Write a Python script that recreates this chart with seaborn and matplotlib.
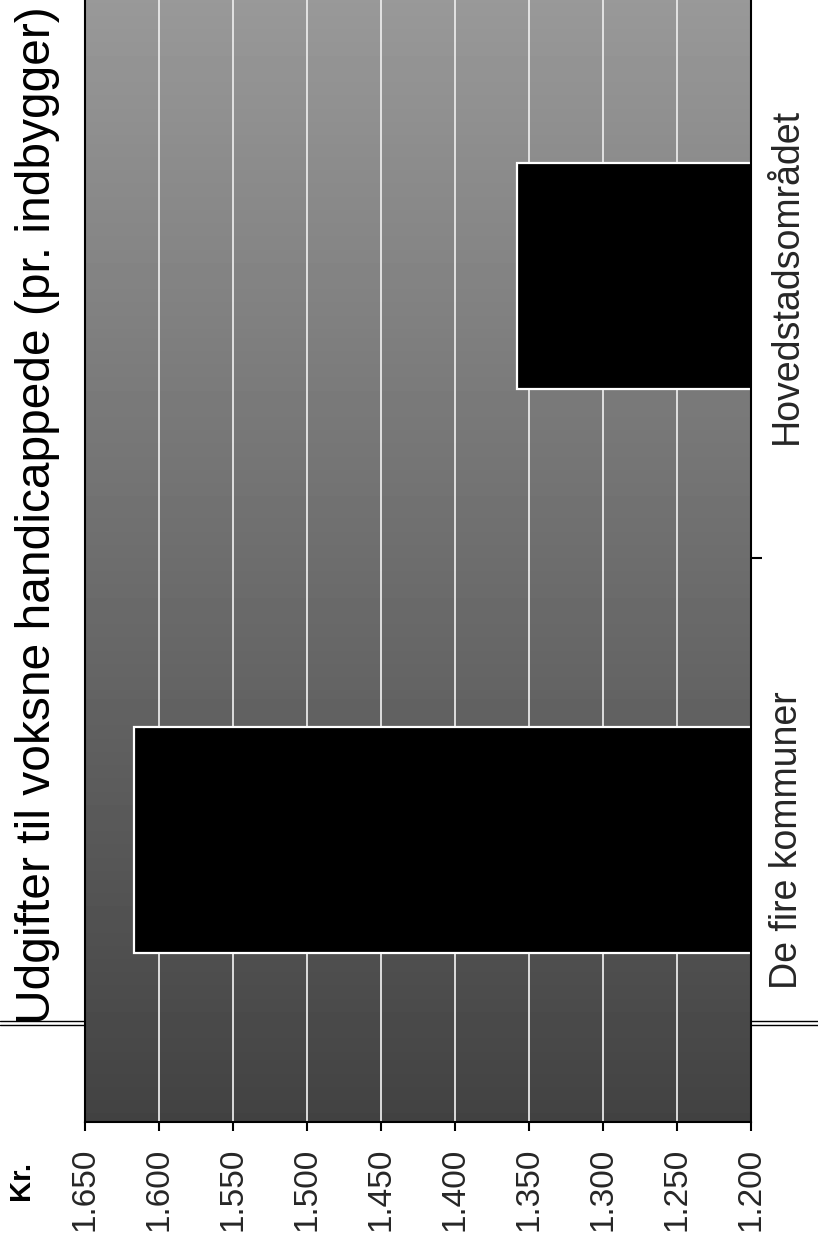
import numpy as np
import matplotlib
matplotlib.use("Agg")
import matplotlib.pyplot as plt
from matplotlib.lines import Line2D
import seaborn as sns

# ---- data ----
categories = ["Hovedstadsområdet", "De fire kommuner"]
values = [1358, 1617]
tick_values = [1200, 1250, 1300, 1350, 1400, 1450, 1500, 1550, 1600, 1650]
tick_labels = ["1.200", "1.250", "1.300", "1.350", "1.400", "1.450",
               "1.500", "1.550", "1.600", "1.650"]
title = "Udgifter til voksne handicappede (pr. indbygger)"
unit_label = "Kr."

sns.set_style("white")
plt.rcParams["font.family"] = ["Liberation Sans", "DejaVu Sans"]

fig = plt.figure(figsize=(8.18, 12.37), dpi=100)
ax = fig.add_axes([85 / 818, 115 / 1237, 666 / 818, 1128 / 1237])

# textured-looking gray background (vertical gradient, lighter at top)
grad = np.linspace(0.26, 0.60, 256)[:, None]
ax.imshow(grad, extent=(0, 1, 0, 1), transform=ax.transAxes, cmap="gray",
          vmin=0, vmax=1, aspect="auto", origin="lower", zorder=0)

sns.barplot(x=values, y=categories, orient="h", color="black", width=0.4,
            edgecolor="white", linewidth=1.6, saturation=1, ax=ax, zorder=2)

ax.set_xlim(1650, 1200)
ax.set_ylim(1.5, -0.5)
ax.set_xticks(tick_values)
ax.set_xticklabels(tick_labels, rotation=90, fontsize=24)
ax.set_xlabel("")
ax.set_ylabel("")

ax.grid(axis="x", color="#e8e8e8", lw=1.3, zorder=1)
ax.grid(axis="y", visible=False)
ax.set_axisbelow(True)

ax.tick_params(axis="x", which="major", direction="out", length=6.5,
               width=1.5, color="black", pad=12, bottom=True)

ax.yaxis.tick_right()
ax.set_yticks([0, 1])
ax.set_yticklabels(categories, rotation=90, va="center", fontsize=27)
ax.tick_params(axis="y", which="major", length=0, pad=13)
ax.set_yticks([0.5], minor=True)
ax.tick_params(axis="y", which="minor", direction="out", length=8,
               width=1.5, color="black", right=True, left=False)

for side in ["left", "bottom", "right"]:
    ax.spines[side].set_visible(True)
    ax.spines[side].set_color("black")
    ax.spines[side].set_linewidth(1.5)
ax.spines["top"].set_visible(False)

# page rule lines from the scanned document (outside the plot area)
for yy in (1021, 1025):
    fig.add_artist(Line2D([0, 1], [1 - yy / 1237, 1 - yy / 1237],
                          transform=fig.transFigure, color="black",
                          lw=1.0, zorder=-1))

# title
fig.text(60 / 818, 1 - 1024 / 1237, title, rotation=90, ha="right",
         va="bottom", fontsize=34.5, color="black")

# unit label
fig.text(35 / 818, 1 - 1200 / 1237, unit_label, rotation=90, ha="right",
         va="bottom", fontsize=21, fontweight="bold", color="black")

fig.savefig("out.png", dpi=100)
